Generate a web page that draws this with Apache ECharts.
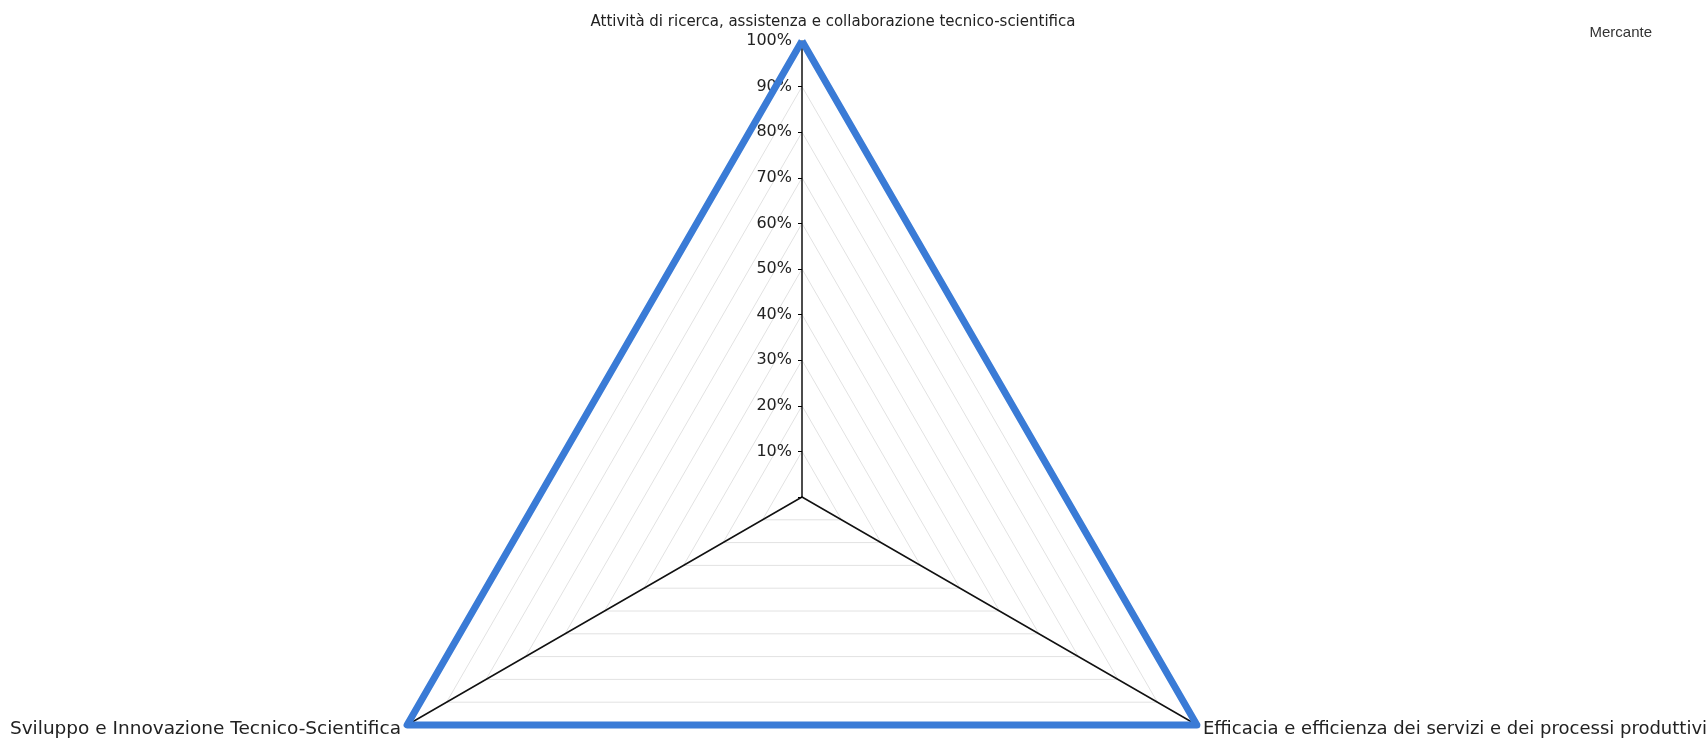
<!DOCTYPE html>
<html>
<head>
<meta charset="utf-8">
<script src="https://cdn.jsdelivr.net/npm/echarts@6/dist/echarts.min.js"></script>
<style>
    html, body { margin: 0; padding: 0; background: #fff; }
    #radar_chart { width: 1707px; height: 741px; }
</style>
</head>
<body>
<div id="radar_chart"></div>
<script>
// dati (assi in senso antiorario, dall'alto)
var indicatori = [
    'Attività di ricerca, assistenza e collaborazione tecnico-scientifica',
    'Sviluppo e Innovazione Tecnico-Scientifica',
    'Efficacia e efficienza dei servizi e dei processi produttivi'
]
var serieNome = 'Mercante'
var serieValori = [100, 100, 100]
var scalaMax = 100
var scalaPasso = 10

function radarChart() {
    var el = document.getElementById('radar_chart')
    var chart = echarts.init(el)

    let indicator = indicatori.map(function (nome, i) {
        var item = { name: nome, min: 0, max: scalaMax }
        if (i === 0) {
            // solo l'asse verticale porta le etichette
            item.axisLabel = {
                show: true,
                color: '#222',
                fontFamily: 'DejaVu Sans',
                fontSize: 16,
                margin: 10,
                formatter: function (v) {
                    return v === 0 ? '' : v + '%'
                }
            }
            item.axisTick = {
                show: true,
                length: 4,
                lineStyle: { color: '#000', width: 1 }
            }
        }
        return item
    })

    let option = {
        animation: false,
        legend: {
            right: 50,
            top: 20,
            itemWidth: 0,
            itemHeight: 0,
            textStyle: {
                color: '#333',
                fontFamily: 'Liberation Sans',
                fontSize: 15
            },
            data: [serieNome]
        },
        radar: {
            center: [802, 497],
            radius: 456,
            startAngle: 90,
            shape: 'polygon',
            splitNumber: scalaMax / scalaPasso,
            nameGap: 7,
            axisName: {
                color: '#222',
                fontFamily: 'DejaVu Sans',
                fontSize: 18,
                formatter: function (nome) {
                    var k = indicatori.indexOf(nome)
                    return '{n' + k + '|' + nome + '}'
                },
                rich: {
                    n0: {
                        color: '#222',
                        fontFamily: 'DejaVu Sans',
                        fontSize: 15,
                        padding: [0, 0, 4, 62]
                    },
                    n1: {
                        color: '#222',
                        fontFamily: 'DejaVu Sans',
                        fontSize: 18.5,
                        padding: [2, 0, 0, 0]
                    },
                    n2: {
                        color: '#222',
                        fontFamily: 'DejaVu Sans',
                        fontSize: 18,
                        padding: [2, 0, 0, 0]
                    }
                }
            },
            axisLine: {
                lineStyle: { color: '#111', width: 1.5 }
            },
            axisTick: { show: false },
            axisLabel: { show: false },
            splitLine: {
                lineStyle: { color: '#e2e2e2', width: 1 }
            },
            splitArea: { show: false },
            indicator: indicator
        },
        series: [
            {
                name: serieNome,
                type: 'radar',
                symbol: 'none',
                lineStyle: {
                    color: '#3a7bd6',
                    width: 7
                },
                itemStyle: { color: '#3a7bd6' },
                data: [
                    { value: serieValori, name: serieNome }
                ]
            }
        ]
    };
    chart.setOption(option)
}

radarChart()
</script>
</body>
</html>
